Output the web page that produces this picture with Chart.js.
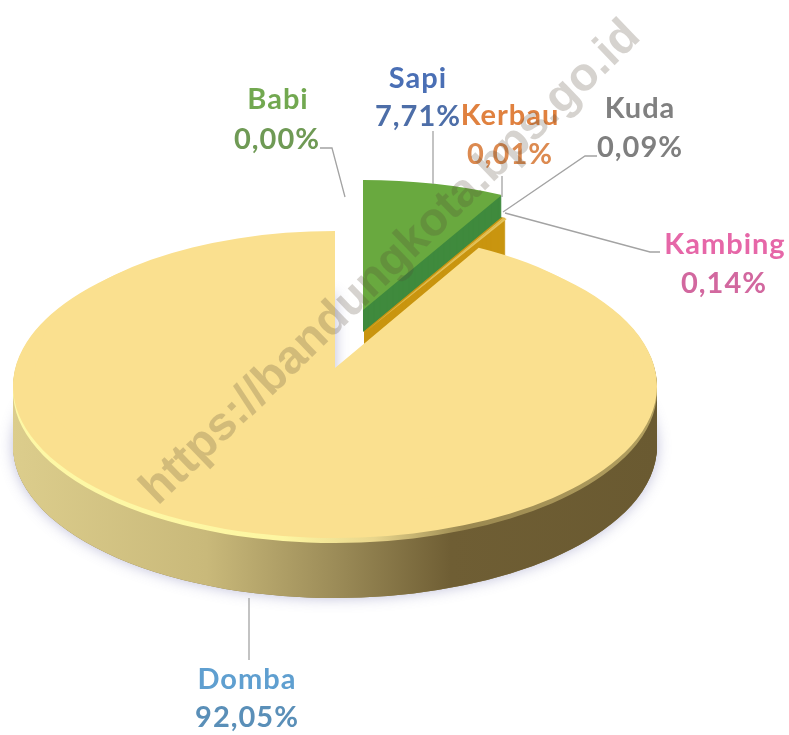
<!DOCTYPE html>
<html>
<head>
<meta charset="utf-8">
<script src="https://cdn.jsdelivr.net/npm/chart.js@4"></script>
<style>
html,body{margin:0;padding:0;background:#fff}
canvas{display:block;filter:blur(0.6px)}
</style>
</head>
<body>
<canvas id="c" width="789" height="735"></canvas>
<script>
const categories = ['Sapi','Kerbau','Kuda','Kambing','Domba','Babi'];
const values = [7.71,0.01,0.09,0.14,92.05,0.00];
const valueLabels = ['7,71%','0,01%','0,09%','0,14%','92,05%','0,00%'];
const sliceColors = ['#69a93f','#e4c35c','#e4c35c','#e4c35c','#fae08f','#70ad47'];
const labelColors = ['#4a6fb5','#e0813f','#808080','#e667a8','#5f9fd0','#72a850'];
const valueColors = ['#4d6ea8','#dc8a50','#7f7f7f','#d2689f','#5a8fb8','#6f9a55'];
const watermark = 'https://bandungkota.bps.go.id';

const labelSpots = {
  Sapi:[418,79,418,117], Kerbau:[510,116,510,155], Kuda:[640,109,640,148],
  Kambing:[725,245,724,284], Domba:[247,680,247,718], Babi:[278,100,277,140]
};
const leaders = [
  [[433,131],[433,184]],
  [[502,176],[502,197]],
  [[597,156],[585,156],[503,212]],
  [[660,252],[650,252],[505,213]],
  [[320,148],[332,148],[345,197]],
  [[249,598],[249,660]]
];

function paint(ctx, arc, g, fill, dy){
  const R = arc.outerRadius;
  ctx.save();
  ctx.translate(g.x, g.y + (dy||0));
  ctx.scale(g.rx/R, g.ry/R);
  ctx.translate(-arc.x, -arc.y);
  const o = arc.options;
  arc.options = Object.create(o, {backgroundColor:{value:fill}, borderWidth:{value:0}});
  arc.draw(ctx);
  arc.options = o;
  ctx.restore();
}
function sideGradient(ctx, arc, stops){
  const R = arc.outerRadius;
  const gr = ctx.createLinearGradient(arc.x-R,0,arc.x+R,0);
  stops.forEach(s=>gr.addColorStop(s[0],s[1]));
  return gr;
}

const pie3d = {
  id:'pie3d',
  beforeDatasetsDraw(chart){
    const ctx = chart.ctx;
    const arcs = chart.getDatasetMeta(0).data;
    const sapi = arcs[0], domba = arcs[4];
    const wedge = {x:363,y:310,rx:298,ry:130};
    const goldFace = {x:364,y:311,rx:304,ry:130};
    const disc = {x:335,y:386,rx:322,ry:152};
    const discBack = {x:335,y:368,rx:300,ry:137};
    const depth = 60;

    // exploded wedge: gold cut face, dark green face, light green top
    for(let d=70;d>=22;d--) paint(ctx,sapi,goldFace,'#c9950f',d);
    for(let d=22;d>=1;d--) paint(ctx,sapi,wedge,'#3f8a3d',d);
    paint(ctx,sapi,wedge,sliceColors[0],0);
    [1,2,3].forEach(i=>paint(ctx,arcs[i],{x:364,y:333,rx:298,ry:130},sliceColors[i],0));

    // main disc side wall
    const side = sideGradient(ctx,domba,[[0,'#dccd8c'],[0.3,'#c9b97a'],[0.5,'#9c8c58'],[0.68,'#6f5e34'],[1,'#6a5a31']]);
    ctx.save();
    ctx.shadowColor='rgba(110,110,170,0.45)';
    ctx.shadowBlur=14;
    paint(ctx,domba,disc,'#8a7a48',depth);
    ctx.restore();
    for(let d=depth;d>=1;d--) paint(ctx,domba,disc,side,d);

    // rim highlight
    const rim = sideGradient(ctx,domba,[[0,'#fdf8a6'],[0.42,'#fdf6a2'],[0.56,'#e9d68c'],[0.7,'#9a8850'],[1,'#b3a060']]);
    paint(ctx,domba,disc,rim,5);

    // top surface
    paint(ctx,domba,disc,sliceColors[4],0);
    paint(ctx,domba,discBack,sliceColors[4],0);
    return false;
  },
  afterDraw(chart){
    const ctx = chart.ctx;
    ctx.save();
    ctx.strokeStyle='#a3a3a3';
    ctx.lineWidth=1.3;
    leaders.forEach(l=>{
      ctx.beginPath();
      l.forEach((p,i)=>i?ctx.lineTo(p[0],p[1]):ctx.moveTo(p[0],p[1]));
      ctx.stroke();
    });
    ctx.textAlign='center';
    ctx.textBaseline='middle';
    ctx.font='bold 29px Lato, "Open Sans", sans-serif';
    ctx.letterSpacing='1px';
    categories.forEach((name,i)=>{
      const s=labelSpots[name];
      ctx.fillStyle=labelColors[i];
      ctx.fillText(name,s[0],s[1]);
      ctx.fillStyle=valueColors[i];
      ctx.fillText(valueLabels[i],s[2],s[3]);
    });
    ctx.letterSpacing='0px';
    ctx.translate(391,263);
    ctx.rotate(-44*Math.PI/180);
    ctx.font='bold 47px "Liberation Sans", Arial, sans-serif';
    ctx.fillStyle='rgba(85,70,55,0.24)';
    ctx.fillText(watermark,0,0);
    ctx.restore();
  }
};

new Chart(document.getElementById('c'),{
  type:'pie',
  data:{labels:categories,datasets:[{data:values,backgroundColor:sliceColors,borderWidth:0}]},
  options:{
    responsive:false,
    animation:false,
    layout:{padding:0},
    plugins:{legend:{display:false},tooltip:{enabled:false}}
  },
  plugins:[pie3d]
});
</script>
</body>
</html>
